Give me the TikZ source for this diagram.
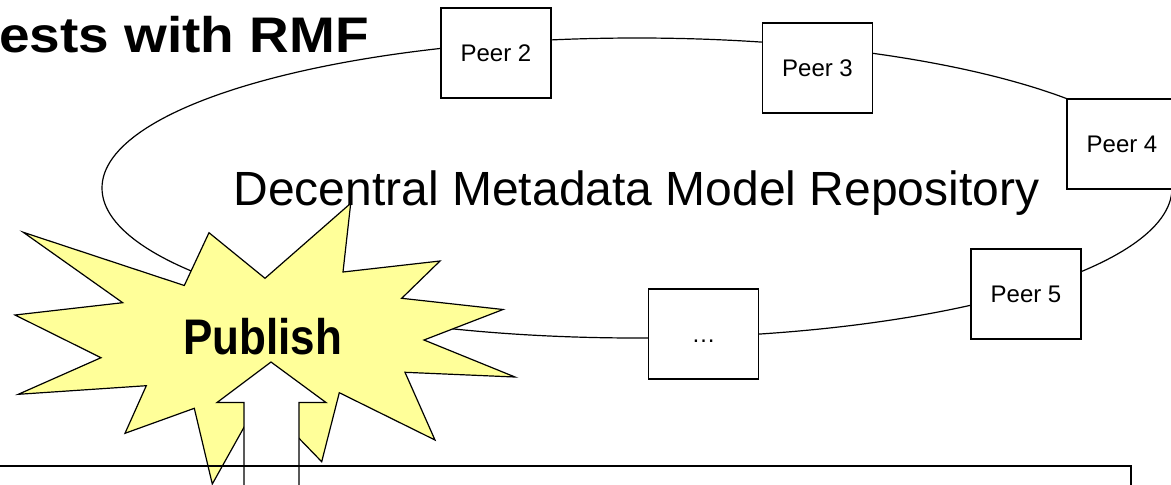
\documentclass[tikz,border=0pt]{standalone}
\usepackage{fontspec}
\setmainfont{Liberation Sans}
\definecolor{burst}{RGB}{255,255,153}
\begin{document}
\begin{tikzpicture}[x=1pt,y=-1pt,
  line join=miter,
  ring/.style={draw=black, line width=1.2pt},
  peer/.style={draw=black, line width=1.3pt, fill=white, minimum width=110pt,
    minimum height=90pt, inner sep=0pt, font=\fontsize{24}{28}\selectfont,
    text height=17pt, text depth=0pt},
  burstshape/.style={draw=black, line width=1.2pt, fill=burst},
  uparrow/.style={draw=black, line width=1.2pt, fill=white},
  boxline/.style={draw=black, line width=1.3pt}]
\useasboundingbox (0,0) rectangle (1171,485);
\clip (0,0) rectangle (1171,485);
% ring of the repository
\draw[ring] (637,188) ellipse [x radius=535pt, y radius=150pt];
% title
\node[anchor=base east, inner sep=0pt, font=\bfseries\fontsize{50}{56}\selectfont]
  (title) at (369,52) {\scalebox{1.1}[1]{ests with RMF}};
% repository label
\node[anchor=base, inner sep=0pt, font=\fontsize{48}{54}\selectfont]
  (repo) at (636.5,205) {Decentral Metadata Model Repository};
% peers
\node[peer] (p2) at (496,53) {Peer 2};
\node[peer] (p3) at (817.5,68) {Peer 3};
\node[peer] (p4) at (1122,144) {Peer 4};
\node[peer] (p5) at (1026,294) {Peer 5};
\node[peer] (pd) at (703.5,334) {…};
% burst
\draw[burstshape] (23.3,232.3) -- (184.3,285.5) -- (209,232.7) -- (265,278.3)
  -- (350.7,203.3) -- (343,272) -- (440,261) -- (401.7,298.3) -- (503,309.5)
  -- (424,340) -- (515,377) -- (405,372.3) -- (435,440) -- (339.3,392.7)
  -- (321.7,461.7) -- (260.2,398.3) -- (212.3,484) -- (194.3,408.3)
  -- (125,433.3) -- (146.3,385.7) -- (18.3,394.3) -- (101,357.7)
  -- (15,315) -- (122.7,302.7) -- cycle;
\node[anchor=base, inner sep=0pt, font=\bfseries\fontsize{50}{56}\selectfont]
  (publish) at (262.5,354) {\scalebox{0.88}[1]{Publish}};
% up arrow
\draw[uparrow] (271,362) -- (326,402.5) -- (299,402.5) -- (299,500)
  -- (244,500) -- (244,402.5) -- (217,402.5) -- cycle;
% bottom box
\draw[boxline] (-10,466) -- (1131,466) -- (1131,500);
\end{tikzpicture}
\end{document}
